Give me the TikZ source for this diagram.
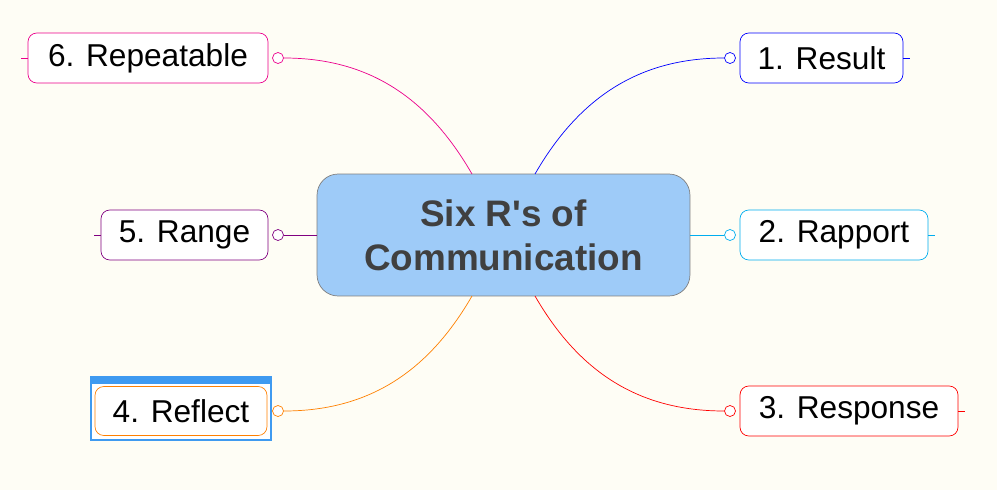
\documentclass[tikz,border=0pt]{standalone}
\usepackage{fontspec}
\setmainfont{Liberation Sans}[Ligatures=TeXOff]
\definecolor{bgcol}{HTML}{FEFDF5}
\definecolor{corecol}{HTML}{9ECBF8}
\definecolor{framecol}{HTML}{3F9AF0}
\begin{document}
\begin{tikzpicture}
	[x=0.02cm,y=-0.02cm,
	topic/.style={draw,rounded corners=5pt,fill=white,minimum height=1cm,inner sep=0pt,font=\fontsize{18}{20}\selectfont},
	core/.style={draw=black!50,fill=corecol,rounded corners=12pt,minimum width=7.46cm,minimum height=2.44cm,align=center,font=\fontsize{21}{25}\selectfont\bfseries,text=black!75},
	knob/.style={circle,draw,fill=white,inner sep=0pt,minimum size=0.22cm}]
	\fill [bgcol] (0,0) rectangle (997,490);
	\node (core) at (503.5,235) [core] {Six R's of\\Communication};
	% right side
	\node (r1) at (821.5,58) [topic,draw=blue,minimum width=3.26cm] {1. Result};
	\node (r2) at (834,235) [topic,draw=cyan,minimum width=3.76cm] {2. Rapport};
	\node (r3) at (849,411) [topic,draw=red,minimum width=4.36cm] {3. Response};
	% left side
	\draw [framecol,line width=1.5pt,fill=white] (91,377) rectangle (271,440);
	\fill [framecol] (91,377) rectangle (271,384);
	\node (r4) at (181,411) [topic,draw=orange,minimum width=3.44cm,minimum height=0.98cm] {4. Reflect};
	\node (r5) at (184.5,235) [topic,draw=violet,minimum width=3.34cm] {5. Range};
	\node (r6) at (148,58) [topic,draw=magenta,minimum width=4.8cm] {6. Repeatable};
	\node (k1) at (730,58) [knob,draw=blue] {};
	\node (k2) at (730,235) [knob,draw=cyan] {};
	\node (k3) at (730,411) [knob,draw=red] {};
	\node (k4) at (278,411) [knob,draw=orange] {};
	\node (k5) at (278,235) [knob,draw=violet] {};
	\node (k6) at (278,58) [knob,draw=magenta] {};
	\coordinate (c1) at (535,174);
	\coordinate (c3) at (535,296);
	\coordinate (c4) at (472,296);
	\coordinate (c6) at (472,174);
	\draw [blue] (c1) to[out=60,in=180] (k1);
	\draw [cyan] (core) -- (k2);
	\draw [red] (c3) to[out=-60,in=180] (k3);
	\draw [orange] (c4) to[out=-120,in=0] (k4);
	\draw [violet] (core) -- (k5);
	\draw [magenta] (c6) to[out=120,in=0] (k6);
	\draw [blue] (r1.east) -- ++(7,0);
	\draw [cyan] (r2.east) -- ++(7,0);
	\draw [red] (r3.east) -- ++(7,0);
	\draw [violet] (r5.west) -- ++(-7,0);
	\draw [magenta] (r6.west) -- ++(-7,0);
\end{tikzpicture}
\end{document}
